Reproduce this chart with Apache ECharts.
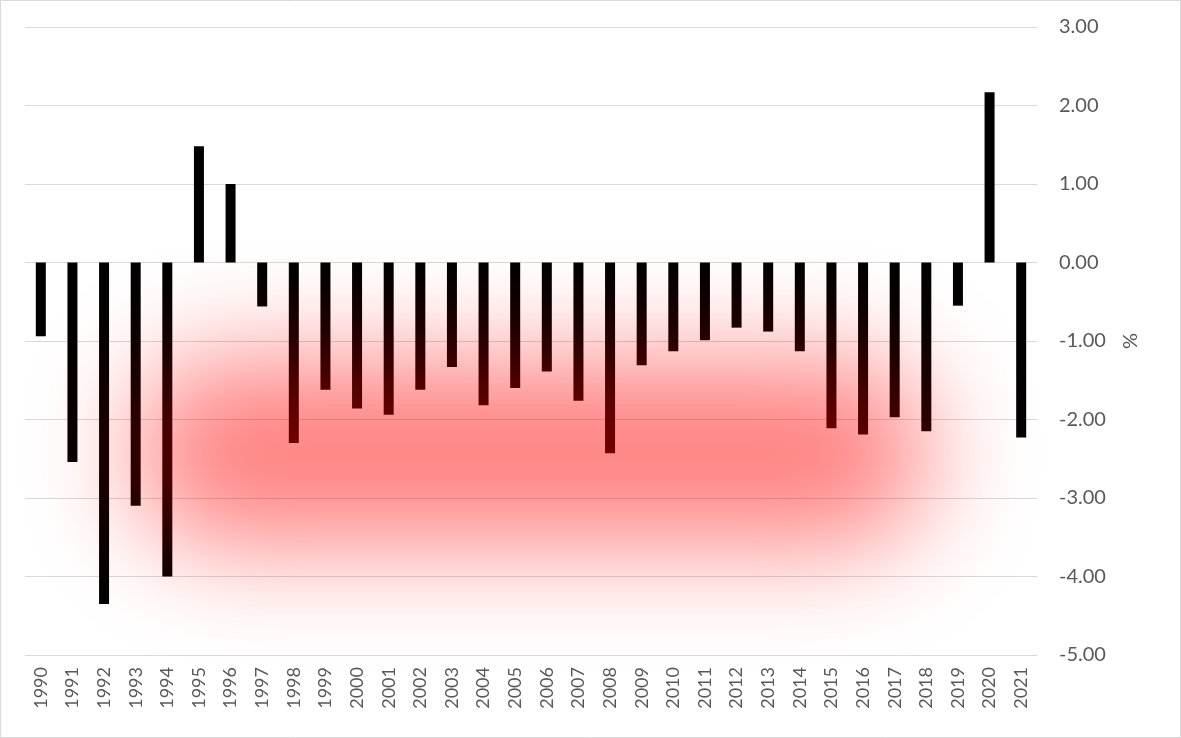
<!DOCTYPE html>
<html>
<head>
<meta charset="utf-8">
<script src="https://cdn.jsdelivr.net/npm/echarts@6/dist/echarts.min.js"></script>
<style>
  html, body { margin: 0; padding: 0; background: #fff; }
  #chart { width: 1181px; height: 738px; }
</style>
</head>
<body>
<div id="chart"></div>
<script>
// years on the category axis
var years = ['1990','1991','1992','1993','1994','1995','1996','1997','1998','1999',
             '2000','2001','2002','2003','2004','2005','2006','2007','2008','2009',
             '2010','2011','2012','2013','2014','2015','2016','2017','2018','2019',
             '2020','2021'];
// yearly change, %
var changes = [-0.94, -2.54, -4.35, -3.10, -4.00, 1.48, 1.00, -0.56, -2.30, -1.62,
               -1.86, -1.94, -1.62, -1.33, -1.82, -1.60, -1.39, -1.76, -2.43, -1.31,
               -1.13, -0.99, -0.83, -0.88, -1.13, -2.11, -2.19, -1.97, -2.15, -0.55,
               2.17, -2.23];
// value axis
var yMin = -5, yMax = 3, yStep = 1;

var textColor = '#595959';
var fontName = 'Lato';

var chart = echarts.init(document.getElementById('chart'));

var option = {
    animation: false,
    backgroundColor: '#fff',
    grid: { left: 25, right: 144, top: 27, bottom: 83 },
    xAxis: {
        type: 'category',
        data: years,
        axisLine: { show: false, onZero: false },
        axisTick: { show: false },
        axisLabel: {
            interval: 0,
            rotate: 90,
            margin: 12,
            color: textColor,
            fontSize: 18,
            fontFamily: fontName
        },
        splitLine: { show: false }
    },
    yAxis: {
        type: 'value',
        position: 'right',
        min: yMin,
        max: yMax,
        interval: yStep,
        name: '%',
        nameLocation: 'middle',
        nameGap: 84,
        nameTextStyle: { color: textColor, fontSize: 20, fontFamily: fontName },
        axisLine: { show: false },
        axisTick: { show: false },
        axisLabel: {
            margin: 22,
            color: textColor,
            fontSize: 20,
            fontFamily: fontName,
            formatter: function (v) { return v.toFixed(2); }
        },
        splitLine: { lineStyle: { color: 'rgba(0,0,0,0.15)', width: 1 } }
    },
    series: [{
        type: 'bar',
        data: changes,
        barWidth: 10,
        itemStyle: { color: '#000' }
    }]
};
chart.setOption(option);

// red glow behind the bars, placed from axis values
function glow() {
    var p1 = chart.convertToPixel({ gridIndex: 0 }, [3.0, -1.25]);
    var p2 = chart.convertToPixel({ gridIndex: 0 }, [28.0, -3.6]);
    var off = 3000;
    var box = { x: p1[0] - off, y: p1[1], width: p2[0] - p1[0], height: p2[1] - p1[1], r: 80 };
    chart.setOption({
        graphic: [
            {
                id: 'frame', type: 'rect', z: 50, silent: true,
                shape: { x: 0.5, y: 0.5, width: 1180, height: 737 },
                style: { fill: 'none', stroke: '#d9d9d9', lineWidth: 1 }
            },
            {
                id: 'pink', type: 'rect', z: -5, silent: true,
                shape: box,
                style: { fill: '#000', shadowBlur: 110, shadowColor: '#ff8080', shadowOffsetX: off }
            },
            {
                id: 'tint', type: 'rect', z: 10, silent: true,
                shape: box,
                style: { fill: '#000', shadowBlur: 110, shadowColor: '#760000', shadowOffsetX: off, blend: 'screen' }
            }
        ]
    });
}
glow();
</script>
</body>
</html>
